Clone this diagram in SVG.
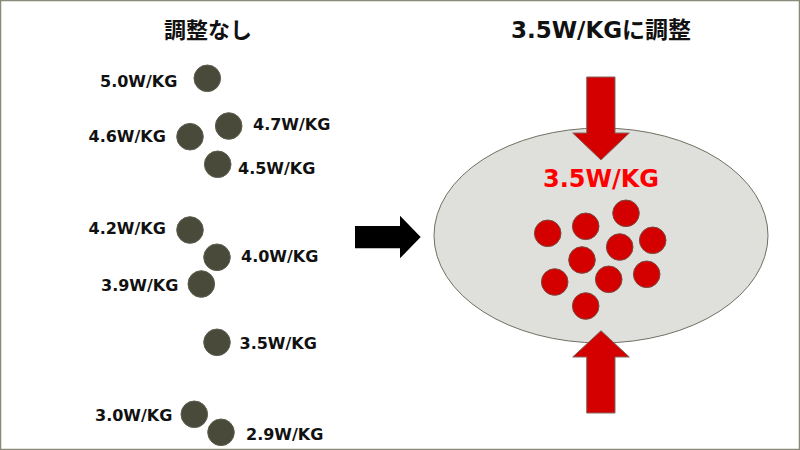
<svg xmlns="http://www.w3.org/2000/svg" width="800" height="450" viewBox="0 0 800 450">
<style>
.lbl{font-family:"DejaVu Sans","Noto Sans CJK JP",sans-serif;font-weight:bold;font-size:16px;fill:#111}
.ttl{font-family:"DejaVu Sans","Noto Sans CJK JP",sans-serif;font-weight:bold;font-size:22px;fill:#111;text-anchor:middle}
.dk{fill:#4a4a3b;stroke:#5e5e50;stroke-width:1}
.rd{fill:#d40000;stroke:#7a4a40;stroke-width:1}
.rarr{fill:#d40000;stroke:#806860;stroke-width:1}
</style>
<rect x="0" y="0" width="800" height="450" fill="#ffffff"/>
<rect x="0.5" y="0.5" width="799" height="449" fill="none" stroke="#8a8a78" stroke-width="1.5"/>
<text class="ttl" x="208" y="38">調整なし</text>
<text class="ttl" x="601" y="38" style="font-size:23px">3.5W/KGに調整</text>
<g id="left-items">
<g id="p50"><circle class="dk" cx="207.3" cy="78.3" r="13.3"/><text class="lbl" x="100" y="87">5.0W/KG</text></g>
<g id="p47"><circle class="dk" cx="228.7" cy="126" r="13.3"/><text class="lbl" x="253" y="129.5">4.7W/KG</text></g>
<g id="p46"><circle class="dk" cx="190" cy="136.7" r="13.3"/><text class="lbl" x="88.5" y="141.5">4.6W/KG</text></g>
<g id="p45"><circle class="dk" cx="217.7" cy="164.3" r="13.3"/><text class="lbl" x="238" y="173.5">4.5W/KG</text></g>
<g id="p42"><circle class="dk" cx="190" cy="230" r="13.3"/><text class="lbl" x="88.5" y="234">4.2W/KG</text></g>
<g id="p40"><circle class="dk" cx="217" cy="257.3" r="13.3"/><text class="lbl" x="241" y="262">4.0W/KG</text></g>
<g id="p39"><circle class="dk" cx="201.3" cy="284" r="13.3"/><text class="lbl" x="101" y="290.5">3.9W/KG</text></g>
<g id="p35"><circle class="dk" cx="217" cy="342.3" r="13.3"/><text class="lbl" x="239.5" y="348.5">3.5W/KG</text></g>
<g id="p30"><circle class="dk" cx="194.3" cy="414.3" r="13.3"/><text class="lbl" x="95" y="420.5">3.0W/KG</text></g>
<g id="p29"><circle class="dk" cx="221" cy="432.3" r="13.3"/><text class="lbl" x="246" y="439.5">2.9W/KG</text></g>
</g>
<g id="connectors">
<polygon fill="#000" points="355,226 400,226 400,215.7 420.7,237 400,258.3 400,248.3 355,248.3"/>
</g>
<g id="group-ellipse">
<ellipse cx="601" cy="235.5" rx="167" ry="107.5" fill="#dfdfdb" stroke="#707062" stroke-width="1"/>
<polygon class="rarr" points="586.7,77 615,77 615,133 629.3,133 601,160 572.7,133 586.7,133"/>
<polygon class="rarr" points="586.7,413 615,413 615,357 629.3,357 601,330.7 572.7,357 586.7,357"/>
<text x="601" y="187" style="font-family:'DejaVu Sans',sans-serif;font-weight:bold;font-size:24px;fill:#ff0000;text-anchor:middle">3.5W/KG</text>
<circle class="rd" cx="547.7" cy="233.3" r="13.3"/>
<circle class="rd" cx="585.7" cy="226.3" r="13.3"/>
<circle class="rd" cx="626" cy="213.3" r="13.3"/>
<circle class="rd" cx="652.7" cy="240.3" r="13.3"/>
<circle class="rd" cx="619.7" cy="247" r="13.3"/>
<circle class="rd" cx="582" cy="260" r="13.3"/>
<circle class="rd" cx="554.7" cy="282" r="13.3"/>
<circle class="rd" cx="608.7" cy="279.3" r="13.3"/>
<circle class="rd" cx="646.7" cy="274.3" r="13.3"/>
<circle class="rd" cx="585.7" cy="306" r="13.3"/>
</g>
</svg>
